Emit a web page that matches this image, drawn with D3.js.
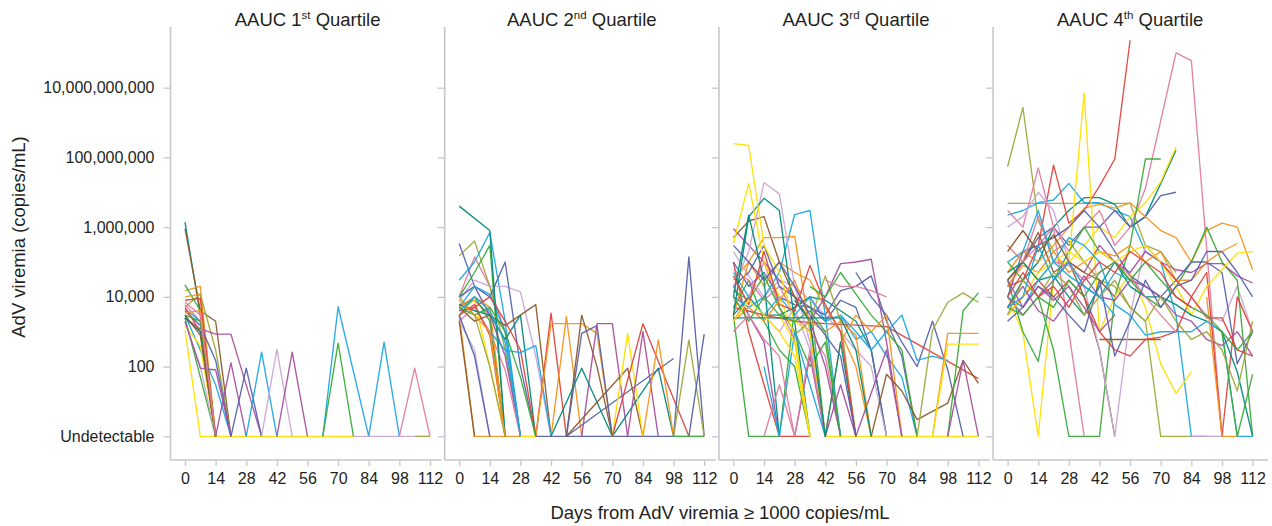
<!DOCTYPE html>
<html>
<head>
<meta charset="utf-8">
<script src="https://d3js.org/d3.v7.min.js"></script>
<style>
  body { margin: 0; background: #fff; }
  svg text { font-family: "Liberation Sans", Arial, sans-serif; fill: #231f20; }
</style>
</head>
<body>
<svg id="chart" width="1272" height="526"></svg>
<script>
// y ticks in copies/mL; "Undetectable" is drawn at 1
var yTicks = [1, 1e2, 1e4, 1e6, 1e8, 1e10];
var yTickLabels = ["Undetectable", "100", "10,000", "1,000,000", "100,000,000", "10,000,000,000"];
var xTicks = [0, 14, 28, 42, 56, 70, 84, 98, 112];
var panelOrdinals = ["1", "2", "3", "4"];
var panelSups = ["st", "nd", "rd", "th"];

// one entry per patient: [day, copies/mL], 0 = undetectable
var q1 = [
  [[0,1.4e6],[7,3e3],[14,0]],
  [[0,9e5],[7,4e3],[14,2e3],[21,0]],
  [[0,1.5e4],[7,2e4],[14,0]],
  [[0,2.2e4],[7,4e3],[14,0]],
  [[0,1e4],[7,1.2e4],[14,0]],
  [[0,5e3],[7,1.2e4],[14,300],[21,0]],
  [[0,8e3],[7,9e3],[14,0]],
  [[0,6e3],[7,2e3],[14,0]],
  [[0,2.5e3],[7,1.2e3],[14,850],[21,850],[35,0]],
  [[0,1.1e3],[7,0],[77,0]],
  [[0,4e3],[7,1.5e3],[14,150],[21,0]],
  [[0,3e3],[7,300],[14,30],[21,0]],
  [[0,2.5e3],[7,50],[14,0]],
  [[0,2e3],[7,100],[14,0]],
  [[0,1.5e3],[7,400],[14,0]],
  [[0,4.5e3],[7,2e3],[14,0]],
  [[0,5e3],[7,1e3],[14,0]],
  [[0,2.5e3],[7,1e3],[14,0]],
  [[0,3.5e3],[7,4e3],[14,0]],
  [[0,3e3],[7,2e3],[14,0]],
  [[0,3e3],[7,800],[14,0]],
  [[0,2e3],[7,90],[14,80],[21,0]],
  [[0,7e3],[7,3e3],[14,0]],
  [[14,0],[21,130],[28,0]],
  [[21,0],[28,90],[35,0]],
  [[28,0],[35,260],[42,0]],
  [[35,0],[42,310],[49,0]],
  [[42,0],[49,260],[56,0]],
  [[63,0],[70,5.2e3],[84,0],[91,500],[98,0]],
  [[63,0],[70,470],[77,0]],
  [[77,0],[105,0]],
  [[98,0],[105,90],[112,0]],
  [[105,0],[112,0]]
];
var q1Colors = "tnogovrkpysbglybrtognpkpsblpbglkv";

var q2 = [
  [[0,3e3],[7,0],[28,0]],
  [[0,1e4],[7,1.4e5],[14,2e4],[21,1e3],[28,0]],
  [[0,1.5e5],[7,4e5],[14,2e4],[21,300],[28,0]],
  [[0,3.4e5],[7,2e4],[14,3e3],[21,0]],
  [[0,3e4],[7,1e5],[14,7e5],[21,2e3],[28,0]],
  [[0,8e3],[7,3e4],[14,2e4],[21,2e4],[28,1.4e4],[35,200],[42,0]],
  [[0,1e4],[7,2e4],[14,1e4],[21,1e5],[28,100],[35,0]],
  [[0,1e4],[7,5e4],[14,3e5],[21,0]],
  [[0,6e3],[7,8e3],[14,3e3],[21,200],[28,0]],
  [[0,5e3],[7,2e4],[14,1.2e4],[21,1e3],[28,0]],
  [[0,4e3],[7,8e3],[14,100],[21,0]],
  [[0,3e3],[7,1e4],[14,2e3],[21,0]],
  [[0,2e3],[7,5e3],[14,1e3],[21,80],[28,0]],
  [[0,3e3],[7,6e3],[14,800],[21,0]],
  [[0,5e3],[7,1e4],[14,5e3],[21,0]],
  [[0,2e3],[7,300],[14,0]],
  [[0,3e3],[7,200],[14,0]],
  [[0,1e4],[7,3e3],[14,100],[21,0]],
  [[0,6e3],[7,4e3],[14,3e3],[21,600],[28,3e3],[35,0]],
  [[0,2e3],[7,0]],
  [[0,5e3],[7,2e3],[14,3e3],[21,1.5e3],[35,6e3],[42,0]],
  [[0,4e3],[7,5e3],[14,1e4],[21,2e3],[28,300],[35,0],[42,3.4e3],[49,0]],
  [[14,1e3],[21,300],[28,250],[35,400],[42,0]],
  [[0,4e6],[14,8e5],[21,0]],
  [[28,0],[35,0]],
  [[35,0],[98,0]],
  [[35,0],[42,1.7e3],[49,1.7e3],[56,1.7e3],[63,900],[70,0]],
  [[42,0],[49,2.7e3],[56,0]],
  [[49,0],[56,3e3],[63,100],[70,0]],
  [[49,0],[56,900],[63,1.5e3],[70,0]],
  [[56,0],[63,1.7e3],[70,1.7e3],[77,0]],
  [[42,0],[56,90],[70,0],[91,90],[98,0]],
  [[49,0],[98,170]],
  [[49,0],[77,90],[84,0]],
  [[70,0],[77,900],[84,0]],
  [[70,0],[84,1.7e3],[105,0]],
  [[77,0],[84,1e3],[91,0]],
  [[84,0],[91,580],[98,0]],
  [[98,0],[105,1.4e5],[112,0]],
  [[98,0],[105,580],[112,0]],
  [[105,0],[112,850]],
  [[98,0],[112,0]],
  [[0,5e3],[7,3e3],[14,5e3],[21,1e3],[28,50],[35,0]],
  [[0,8e3],[7,3e3],[14,1e3],[21,0]],
  [[0,4e3],[7,1e4],[14,4e3],[21,500],[28,0]]
];
var q2Colors = "okvsblsgpbygkrolsvtnnrbtysoonsptsnyrposvsggob";

var q3 = [
  [[0,1e5],[7,1e3],[14,30],[21,0],[35,0]],
  [[0,3e3],[7,0],[21,0],[28,5e3],[35,1e4],[42,0]],
  [[0,5e3],[7,3e4],[14,2e3],[21,300],[28,100],[35,0]],
  [[0,2e3],[7,1e4],[14,1e5],[21,5e3],[28,600],[35,0]],
  [[0,8e3],[7,4e3],[14,3e3],[21,1e3],[28,5e3],[35,300],[42,0]],
  [[0,2e4],[7,3e3],[14,500],[21,0]],
  [[0,3e3],[7,1e4],[14,3e3],[21,3e3],[28,5e3],[35,1e4],[42,8e3],[49,4e3],[56,2e3],[63,300],[70,0]],
  [[0,1e5],[7,2e4],[14,5e4],[21,1e4],[28,6e3],[35,5e3],[42,2e3],[49,8e3],[56,5e3],[63,300],[70,0]],
  [[0,6e4],[7,3e4],[14,8e3],[21,2e4],[28,3e3],[35,1e3],[42,200],[49,0]],
  [[0,3e4],[7,1e5],[14,2e4],[21,1e5],[28,5e4],[35,3e4],[42,5e3],[49,1e3],[56,100],[63,0]],
  [[0,1.5e4],[7,8e3],[14,4e4],[21,5e3],[28,1e3],[35,100],[42,500],[49,0]],
  [[0,2e5],[7,4e4],[14,1e4],[21,3e4],[28,2e4],[35,8e3],[42,3e3],[49,1e3],[56,300],[63,100],[70,0]],
  [[0,5e4],[7,1e4],[14,3e3],[21,1e4],[28,3e3],[35,1e4],[42,2e3],[49,3e3],[56,600],[63,1e3],[70,200],[77,50],[84,0]],
  [[0,5e3],[14,3e3],[28,2e3],[42,1.7e3],[70,1.4e3],[112,45]],
  [[0,9e5],[7,3e5],[14,1e5],[21,3e4],[28,1e4],[35,2e3],[42,100],[49,0]],
  [[0,2e4],[7,5e4],[14,3e5],[21,2e4],[28,1e4],[35,5e3],[42,3e3],[49,1.5e4],[56,2e4],[63,4e4],[70,2e3],[77,200],[84,0]],
  [[0,5e5],[7,1.5e6],[14,2e6],[21,1e5],[28,1e4],[35,2e3],[42,0]],
  [[0,1e4],[7,5e3],[14,1e4],[21,5e4],[28,2.3e6],[35,3e6],[42,3e3],[49,0]],
  [[0,3e3],[7,1e5],[14,5e5],[21,5e5],[28,5.4e5],[35,1e3],[42,0]],
  [[0,2e4],[7,2e5],[14,1.9e7],[21,9e6],[28,2e4],[35,500],[42,0]],
  [[0,1e4],[7,2.2e6],[14,3e4],[21,0]],
  [[0,3e3],[7,2e6],[14,6.7e6],[21,3e6],[28,2e3],[35,0]],
  [[0,3.4e5],[7,1.8e7],[14,1e5],[21,1e4],[28,800],[35,0]],
  [[0,2.5e8],[7,2.2e8],[14,3e5],[21,5e4],[28,2e3],[35,1e3],[42,0],[112,0]],
  [[28,800],[35,2e3],[42,4e4],[49,2e3],[56,0]],
  [[35,2e3],[42,1e4],[49,9e4],[56,1e5],[63,1.2e5],[70,500],[77,0]],
  [[35,2e4],[42,1e4],[49,5e4],[56,1.2e4],[63,3e3],[70,1e3],[77,300],[84,0]],
  [[42,3e4],[49,2e4],[56,2e4],[63,1.5e4],[70,1e4]],
  [[56,5e4],[63,1e4],[70,3e3],[77,500],[84,100],[91,2e3],[98,80],[105,0]],
  [[49,3e3],[56,1e3],[63,300],[70,1e3],[77,3e3],[84,150],[91,200],[98,150]],
  [[42,0],[49,500],[56,3e3],[63,1e3],[70,3e3],[77,0]],
  [[28,0],[35,200],[42,0],[49,30],[56,0],[70,300],[77,0]],
  [[14,0],[21,30],[28,0],[35,300],[42,0]],
  [[14,100],[21,0],[28,1e3],[35,30],[42,0]],
  [[28,8e3],[35,2e3],[42,0],[49,500],[56,0]],
  [[63,0],[70,60],[77,20],[84,3],[98,9],[105,150],[112,33]],
  [[84,0],[91,1.1e3],[98,7e3],[105,1.3e4],[112,7e3]],
  [[98,0],[105,4e3],[112,1.3e4]],
  [[91,0],[98,900],[112,900]],
  [[91,0],[98,440],[112,440]],
  [[98,0],[105,150],[112,0]],
  [[21,3e3],[28,500],[35,0]],
  [[0,4e4],[7,6e3],[14,2e5],[21,6e3],[28,4e3],[35,8e4],[42,6e3],[49,1e3],[56,0]],
  [[0,2e3],[7,5e3],[14,2e3],[21,8e3],[28,3e4],[35,2e3],[42,1e3],[49,2e3],[56,800],[63,0]],
  [[0,1e4],[7,2e3],[14,1e4],[21,3e3],[28,2e3],[35,4e3],[42,1e3],[49,0]],
  [[0,3e5],[7,1e5],[14,3e4],[21,1e5],[28,2e4],[35,3e3],[42,800],[49,200],[56,0]],
  [[0,2.5e3],[7,2.5e3],[49,2.5e3],[56,300],[63,0]],
  [[0,1e3],[7,3e3],[14,600],[21,200],[28,0]],
  [[0,2e3],[7,8e3],[14,3e3],[21,1e3],[28,200],[35,0]]
];
var q3Colors = "rggklptskoglbrpsnbolttyyvpgksbopkbtnvgoypyrogstky";

var q4 = [
  [[0,5.4e7],[7,2.7e9],[14,1.5e6],[21,2e5],[28,4e5],[35,1e5],[42,3e4],[49,2e4],[56,5e3],[63,2e3],[70,0],[84,0]],
  [[0,4.8e6],[56,4.8e6],[63,3e5],[70,2e5],[77,5e4]],
  [[0,2.2e6],[7,3e6],[14,5e6],[21,6e6],[28,1.8e7],[35,5e6],[42,5e6],[49,3e6],[56,2e6],[63,2e5],[70,1e5],[77,3e3],[84,0],[91,0]],
  [[0,5e3],[7,3e4],[14,1e5],[21,1e6],[28,3e6],[35,7e6],[42,7e6],[49,4.5e6],[56,1e6],[63,2e6],[77,1.6e8]],
  [[0,1e4],[7,900],[14,0],[21,3e4],[28,1e5],[35,3e5],[42,1e6],[49,5e5],[56,2e6],[63,5e6],[70,2e7],[77,2e8]],
  [[0,3e4],[7,1e5],[14,5e5],[21,1e6],[28,3e5],[35,1e6],[42,1e6],[49,3e6],[56,1e6],[63,2e6],[70,8e6],[77,1e7]],
  [[0,5e4],[7,2e5],[14,1e5],[21,3e5],[28,1e6],[35,3.5e6],[42,4.5e6],[49,3.5e6],[56,5e6],[63,2e6],[70,8e5],[77,5e5],[84,1e5],[91,8e5],[98,1.3e6],[105,1e6],[112,6e4]],
  [[0,2e4],[7,3e4],[14,3e5],[21,6e7],[28,1.3e6],[35,3e6],[42,1.5e7],[49,9e7],[56,2.3e11]],
  [[0,2e4],[7,1e5],[14,3e5],[21,1e6],[28,2e5],[35,1e6],[42,3e6],[49,3e5],[56,1e6],[63,1.3e7],[77,1e11],[84,6e10],[98,0]],
  [[0,1e5],[7,3e4],[14,1e4],[21,300],[28,0],[42,0],[49,1e4],[56,3e5],[63,9e7],[70,9e7]],
  [[0,3e5],[7,1e5],[14,3e4],[21,1e5],[28,1e5],[35,7e9],[42,1e3],[49,1e4],[56,5e4],[63,5e3],[70,120],[77,17],[84,70]],
  [[0,3e6],[7,1e6],[14,5e7],[21,1e6],[28,1e3],[35,0]],
  [[0,3e4],[7,1e5],[14,7e5],[21,5e4],[28,1e5],[35,1e4],[42,300],[49,0]],
  [[42,600],[70,600]],
  [[0,1e6],[7,2e6],[14,1e7],[21,3e6],[28,1e5],[35,2e4],[42,300],[49,0],[56,3e3],[63,3e5],[70,1e5],[77,3e4],[84,1e4],[91,3e3],[98,2e3],[105,2e4],[112,1e3]],
  [[0,3e4],[7,1e3],[14,140],[21,3e4],[28,2e5],[35,1e6],[42,2e5],[49,1e5],[56,3e4],[63,1e4],[70,5e3],[77,2e4],[84,1e5],[91,1e6],[98,1e5],[105,3e4],[112,0]],
  [[0,1e4],[7,3e3],[14,1e4],[21,3e4],[28,1e5],[35,5e4],[42,3e5],[49,1e5],[56,5e4],[63,2e5],[70,1e5],[77,6e4],[84,5e4],[91,9e4],[98,9e4],[105,4e4],[112,2.5e4]],
  [[0,1e4],[7,2e5],[14,3e5],[21,5e5],[28,1e6],[35,3e6],[42,1e6],[49,2e5],[56,4e4],[63,2e4],[70,1e4],[77,3e4],[84,1e5],[91,1e5],[98,5e4],[105,120],[112,1e3]],
  [[0,3e3],[7,1e4],[14,3e4],[21,1e4],[28,3e4],[35,1e4],[42,1e3],[49,300],[56,200],[63,600],[70,700],[77,1e3],[84,1e4],[91,5e4],[98,0],[105,1e4],[112,1e3]],
  [[0,2e4],[7,8e4],[14,5e4],[21,2e5],[28,5e4],[35,1e5],[42,2e5],[49,1.5e5],[56,3e5],[63,1e5],[70,2e5],[77,3e4],[84,3e4],[91,1e5],[98,2e5],[105,3.4e5]],
  [[0,3e3],[7,1e4],[14,5e4],[21,1e5],[28,2e5],[35,1e5],[42,2e5],[49,1e5],[56,2e5],[63,3e5],[70,1e5],[77,2e4],[84,3e3],[91,2e4],[98,6e4],[105,1.8e5],[112,2e5]],
  [[0,5e4],[7,1e5],[14,3e4],[21,4e4],[28,1e4],[35,3e3],[42,2e4],[49,1e5],[56,2e4],[63,1e4],[70,1e4],[77,6e3],[84,3e3],[91,2e3],[98,1e3],[105,70],[112,0]],
  [[0,1e4],[7,5e3],[14,3e4],[21,1e5],[28,5e5],[35,3e5],[42,1e5],[49,6e3],[56,3e3],[63,800],[70,1e3],[77,1e3],[84,1e3],[91,2e3],[98,1e3],[105,0],[112,0]],
  [[0,3e5],[7,1e5],[14,2e6],[21,1e5],[28,8e4],[35,3e4],[42,5e4],[49,1e5],[56,4e4],[63,1e4],[70,3e3],[77,1e3]],
  [[0,5e3],[7,2e4],[14,4e3],[21,2e3],[28,8e3],[35,4e4],[42,1e4],[49,8e3],[56,3e4],[63,2e4],[70,1e4],[77,3e3],[84,2e3],[91,600],[98,400],[105,1e3],[112,200]],
  [[84,0],[91,0],[98,0]],
  [[91,1e4],[98,0],[105,0]],
  [[98,1e3],[105,0],[112,60]],
  [[0,2e3],[7,5e3],[14,2e4],[21,1e4],[28,3e3],[35,1e3],[42,3e4],[49,200],[56,2e3],[63,3e4],[70,5e3],[77,2e4],[84,3e4],[91,2e5],[98,2e5],[105,5e4],[112,1e4]],
  [[70,1e5],[77,3e4],[84,1e4],[91,2.5e3],[98,2.5e3],[105,300],[112,200]],
  [[0,1e5],[7,2e5],[14,3e6],[21,1e5],[28,4e4],[35,2e4],[42,1e4],[49,5e4],[56,3e4]],
  [[0,3e3],[7,3e4],[14,1e4],[21,5e4],[28,2e4],[35,3e3],[42,1e4],[49,3e4],[56,5e3],[63,2e3],[70,1e4],[77,2e3],[84,600],[91,1e3],[98,300],[105,20],[112,2e3]],
  [[0,2e5],[7,8e5],[14,2e5],[21,6e5],[28,1e5],[35,5e4],[42,3e4],[49,1e4]],
  [[0,5e3],[7,3e3],[14,1e4],[21,5e3],[28,3e4],[35,1e4],[42,5e4],[49,1e5],[56,3e4],[63,1e5],[70,3e4],[77,1e4],[84,5e3],[91,3e3],[98,1e3],[105,300],[112,1e3]],
  [[0,5e3],[7,1e4],[14,3e5],[21,3e4],[28,1e5],[35,2e4],[42,1e4],[49,3e3]],
  [[0,1e4],[7,5e4],[14,1e4],[21,2e4],[28,5e3],[35,3e4],[42,1e5],[49,5e4],[56,2e5],[63,1e5],[70,5e4],[77,1e4],[84,5e3]],
  [[0,3e4],[7,5e3],[14,2e4],[21,8e3],[28,2e4],[35,5e3],[42,1e3],[49,3e3]]
];
var q4Colors = "vvbtysorkgyknnlgpsroytbkplogsrbvngbrp";

var quartiles = [q1, q2, q3, q4];
var quartileColors = [q1Colors, q2Colors, q3Colors, q4Colors];

var palette = {
  r: "#e2423c", o: "#f7931e", y: "#ffe000", g: "#3aab3a", b: "#1ea6e2", s: "#5662aa",
  p: "#a6509e", k: "#e07ca0", l: "#c9a6d8", n: "#8b5a2b", v: "#9ea93a", t: "#008a7c"
};
var paletteKeys = Object.keys(palette);

var svg = d3.select("#chart");
var panelLeft0 = 170.5, panelStep = 274.2, plotTop = 27, plotBottom = 460;
var axisColor = "#c3c7cb";

var y = d3.scaleLog().domain([1, 1e10]).range([436.3, 87.7]);

quartiles.forEach(function(lines, i) {
  var left = panelLeft0 + i * panelStep;
  var right = i === 3 ? 1268 : left + panelStep - 3;
  var x = d3.scaleLinear().domain([0, 112]).range([left + 14.5, left + 259.5]);
  var g = svg.append("g");

  // y ticks (labels only on the first panel)
  var yAxis = d3.axisLeft(y).tickValues(yTicks).tickSize(7).tickPadding(9)
    .tickFormat(function(d, k) { return i === 0 ? yTickLabels[k] : ""; });
  var ya = g.append("g").attr("transform", "translate(" + left + ",0)").call(yAxis);
  ya.select(".domain").remove();
  ya.selectAll("line").attr("stroke", axisColor).attr("stroke-width", 1.3);
  ya.selectAll("text").style("font-size", "16px").attr("fill", "#231f20");

  // x axis
  var xAxis = d3.axisBottom(x).tickValues(xTicks).tickSize(6).tickPadding(7);
  var xa = g.append("g").attr("transform", "translate(0," + plotBottom + ")").call(xAxis);
  xa.select(".domain").remove();
  xa.selectAll("line").attr("stroke", axisColor).attr("stroke-width", 1.3);
  xa.selectAll("text").style("font-size", "16px").attr("fill", "#231f20");

  // panel frame: left + bottom
  g.append("line").attr("x1", left).attr("x2", left).attr("y1", plotTop).attr("y2", plotBottom)
    .attr("stroke", axisColor).attr("stroke-width", 1.6);
  g.append("line").attr("x1", left).attr("x2", right).attr("y1", plotBottom).attr("y2", plotBottom)
    .attr("stroke", axisColor).attr("stroke-width", 1.6);

  // title with superscript
  var title = g.append("text").attr("x", left + panelStep / 2).attr("y", 26)
    .attr("text-anchor", "middle").style("font-size", "18.5px");
  title.append("tspan").text("AAUC " + panelOrdinals[i]);
  title.append("tspan").text(panelSups[i]).style("font-size", "11.5px").attr("dy", -7);
  title.append("tspan").text(" Quartile").attr("dy", 7);

  var line = d3.line()
    .x(function(d) { return x(d[0]); })
    .y(function(d) { return y(Math.max(d[1], 1)); });

  var cols = quartileColors[i];
  g.append("g").selectAll("path").data(lines).join("path")
    .attr("d", line)
    .attr("fill", "none")
    .attr("stroke", function(d, j) { return palette[cols[j]] || palette[paletteKeys[j % 12]]; })
    .attr("stroke-width", 1.35)
    .attr("stroke-linejoin", "round")
    .attr("opacity", 0.95);
});

// axis titles
svg.append("text").attr("transform", "translate(25,237) rotate(-90)")
  .attr("text-anchor", "middle").style("font-size", "18.5px")
  .text("AdV viremia (copies/mL)");
svg.append("text").attr("x", 720).attr("y", 519)
  .attr("text-anchor", "middle").style("font-size", "18.5px")
  .text("Days from AdV viremia \u2265 1000 copies/mL");
</script>
</body>
</html>
